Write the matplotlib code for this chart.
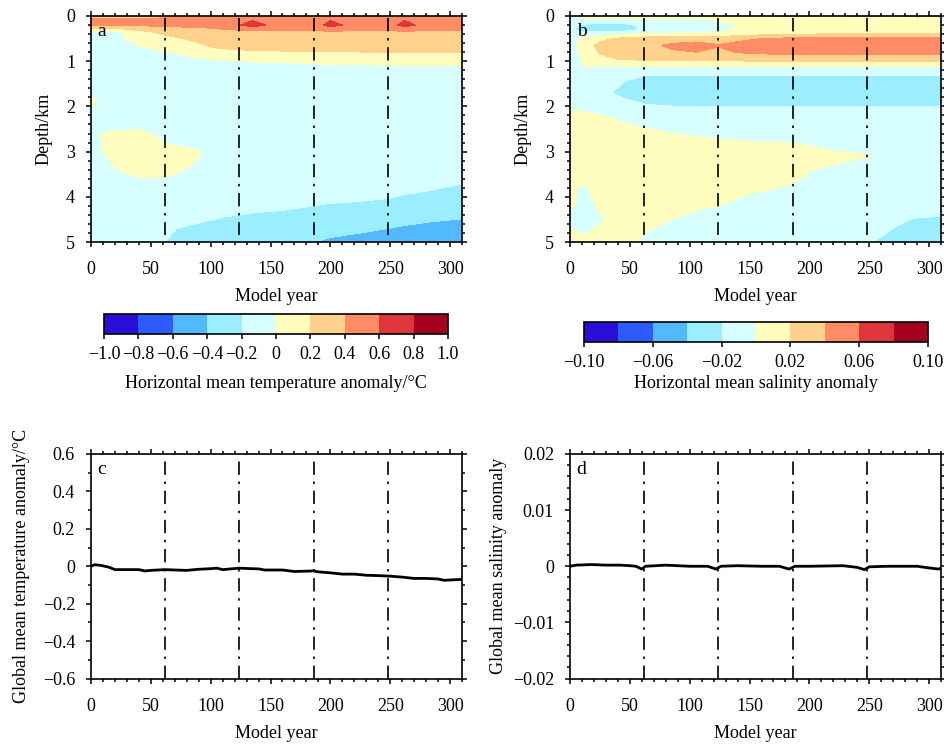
import numpy as np
import matplotlib
matplotlib.use('Agg')
import matplotlib.pyplot as plt
from matplotlib.colors import ListedColormap, BoundaryNorm
from matplotlib.ticker import MultipleLocator, FuncFormatter
import matplotlib.cm as cm

plt.rcParams['font.family'] = ['Liberation Serif', 'DejaVu Serif']
plt.rcParams['font.size'] = 13
plt.rcParams['axes.unicode_minus'] = True

# colour scale (10 classes, blue -> red)
colors = ['#2B0FD6', '#2C5BFF', '#52B9FF', '#9AEEFF', '#D7FFFF',
          '#FFFDBE', '#FFD18A', '#FF8C64', '#E1353C', '#A50021']
temp_levels = np.linspace(-1.0, 1.0, 11)
sal_levels = np.linspace(-0.1, 0.1, 11)
marks = [62, 124, 186, 248]  # dash-dot lines

# ---- panel a: horizontal mean temperature anomaly (depth x year) ----
temp_years = [0, 20, 40, 62, 90, 110, 135, 160, 186, 200, 225, 248, 262, 285, 310]
temp_depths = [0, 0.1, 0.2, 0.35, 0.5, 0.7, 0.85, 1.05, 1.3, 1.9, 2.3, 2.6,
               3.0, 3.4, 3.8, 4.1, 4.4, 4.7, 5.0]
temp_anom = [
    [0.3, 0.3, 0.3, 0.31, 0.31, 0.31, 0.32, 0.31, 0.31, 0.32, 0.31, 0.31, 0.32, 0.31, 0.32],
    [0.45, 0.48, 0.5, 0.52, 0.52, 0.52, 0.6, 0.52, 0.52, 0.6, 0.52, 0.52, 0.6, 0.52, 0.6],
    [0.42, 0.42, 0.42, 0.45, 0.45, 0.48, 0.68, 0.5, 0.48, 0.68, 0.48, 0.48, 0.68, 0.47, 0.46],
    [-0.05, -0.05, 0.15, 0.25, 0.3, 0.35, 0.36, 0.37, 0.38, 0.38, 0.38, 0.38, 0.38, 0.38, 0.38],
    [-0.08, -0.06, 0.08, 0.15, 0.24, 0.3, 0.33, 0.34, 0.35, 0.35, 0.35, 0.36, 0.36, 0.36, 0.36],
    [-0.1, -0.1, -0.02, 0.08, 0.16, 0.22, 0.26, 0.27, 0.28, 0.28, 0.29, 0.3, 0.3, 0.3, 0.3],
    [-0.1, -0.1, -0.08, -0.05, 0.04, 0.08, 0.12, 0.13, 0.14, 0.15, 0.15, 0.15, 0.15, 0.15, 0.15],
    [-0.1, -0.1, -0.1, -0.1, -0.06, -0.04, -0.02, -0.01, 0.0, 0.01, 0.01, 0.02, 0.02, 0.02, 0.03],
    [-0.1, -0.1, -0.1, -0.1, -0.1, -0.1, -0.1, -0.1, -0.1, -0.1, -0.1, -0.1, -0.1, -0.1, -0.1],
    [0.03, -0.1, -0.1, -0.1, -0.1, -0.1, -0.1, -0.1, -0.1, -0.1, -0.1, -0.1, -0.1, -0.1, -0.1],
    [-0.08, -0.1, -0.1, -0.1, -0.1, -0.1, -0.1, -0.1, -0.1, -0.1, -0.1, -0.1, -0.1, -0.1, -0.1],
    [-0.02, 0.03, 0.04, -0.05, -0.1, -0.1, -0.1, -0.1, -0.1, -0.1, -0.1, -0.1, -0.1, -0.1, -0.1],
    [-0.06, 0.06, 0.08, 0.04, 0.01, -0.1, -0.1, -0.1, -0.1, -0.1, -0.1, -0.1, -0.1, -0.1, -0.1],
    [-0.1, -0.01, 0.05, 0.03, -0.02, -0.1, -0.1, -0.1, -0.1, -0.1, -0.1, -0.1, -0.1, -0.1, -0.12],
    [-0.1, -0.1, -0.06, -0.04, -0.1, -0.1, -0.1, -0.11, -0.12, -0.13, -0.14, -0.16, -0.17, -0.19, -0.22],
    [-0.1, -0.1, -0.1, -0.11, -0.12, -0.13, -0.14, -0.16, -0.18, -0.19, -0.2, -0.21, -0.23, -0.25, -0.27],
    [-0.11, -0.12, -0.13, -0.15, -0.17, -0.19, -0.21, -0.22, -0.24, -0.26, -0.28, -0.31, -0.33, -0.36, -0.38],
    [-0.12, -0.14, -0.16, -0.19, -0.22, -0.25, -0.28, -0.31, -0.34, -0.36, -0.38, -0.4, -0.42, -0.44, -0.45],
    [-0.13, -0.15, -0.17, -0.2, -0.25, -0.28, -0.32, -0.36, -0.4, -0.42, -0.44, -0.46, -0.47, -0.48, -0.48],
]

# ---- panel b: horizontal mean salinity anomaly (depth x year) ----
sal_years = [0, 10, 25, 45, 62, 85, 105, 124, 150, 186, 220, 248, 270, 290, 310]
sal_depths = [0, 0.08, 0.2, 0.3, 0.4, 0.5, 0.65, 0.8, 0.95, 1.1, 1.25, 1.45, 1.7,
              1.95, 2.2, 2.5, 2.8, 3.1, 3.4, 3.8, 4.2, 4.5, 4.8, 5.0]
sal_anom = [
    [-0.01, 0.01, 0.01, 0.012, 0.012, 0.012, 0.015, 0.015, 0.018, 0.022, 0.018, 0.023, 0.018, 0.024, 0.022],
    [-0.01, -0.008, -0.008, -0.008, -0.008, -0.006, -0.005, 0.003, 0.01, 0.01, 0.01, 0.01, 0.01, 0.01, 0.01],
    [-0.015, -0.022, -0.024, -0.024, -0.016, -0.01, -0.01, -0.005, 0.005, 0.005, 0.01, 0.01, 0.01, 0.01, 0.01],
    [-0.015, -0.03, -0.03, -0.03, -0.017, -0.01, -0.008, -0.005, 0.005, 0.008, 0.01, 0.01, 0.01, 0.01, 0.01],
    [-0.01, -0.012, -0.006, -0.002, 0.002, 0.003, 0.004, 0.006, 0.014, 0.019, 0.021, 0.021, 0.021, 0.021, 0.021],
    [-0.01, 0.005, 0.015, 0.025, 0.03, 0.032, 0.034, 0.032, 0.038, 0.045, 0.046, 0.045, 0.046, 0.046, 0.046],
    [-0.01, 0.01, 0.025, 0.032, 0.035, 0.043, 0.046, 0.041, 0.048, 0.052, 0.052, 0.052, 0.052, 0.053, 0.053],
    [-0.01, 0.005, 0.022, 0.03, 0.032, 0.038, 0.04, 0.037, 0.043, 0.046, 0.047, 0.046, 0.047, 0.047, 0.047],
    [-0.01, 0.0, 0.015, 0.022, 0.024, 0.025, 0.026, 0.025, 0.028, 0.03, 0.03, 0.03, 0.03, 0.03, 0.03],
    [-0.01, 0.001, 0.002, 0.002, 0.002, 0.002, 0.002, 0.002, 0.003, 0.003, 0.003, 0.003, 0.003, 0.003, 0.003],
    [-0.01, -0.01, -0.012, -0.015, -0.015, -0.015, -0.015, -0.015, -0.015, -0.015, -0.015, -0.015, -0.015, -0.015, -0.015],
    [-0.008, -0.01, -0.015, -0.02, -0.028, -0.03, -0.03, -0.03, -0.03, -0.03, -0.03, -0.03, -0.03, -0.03, -0.03],
    [-0.008, -0.01, -0.016, -0.024, -0.03, -0.032, -0.032, -0.032, -0.032, -0.032, -0.032, -0.032, -0.032, -0.032, -0.032],
    [-0.005, -0.008, -0.012, -0.016, -0.02, -0.022, -0.022, -0.022, -0.022, -0.022, -0.022, -0.022, -0.022, -0.022, -0.022],
    [0.005, 0.005, 0.001, -0.005, -0.008, -0.01, -0.01, -0.01, -0.01, -0.01, -0.01, -0.01, -0.01, -0.01, -0.01],
    [0.01, 0.01, 0.008, 0.004, 0.001, -0.003, -0.005, -0.006, -0.007, -0.008, -0.008, -0.008, -0.008, -0.008, -0.008],
    [0.01, 0.012, 0.012, 0.01, 0.008, 0.006, 0.004, 0.002, 0.001, 0.0, -0.004, -0.005, -0.006, -0.007, -0.008],
    [0.01, 0.012, 0.012, 0.012, 0.01, 0.009, 0.008, 0.007, 0.006, 0.005, 0.003, 0.0005, -0.003, -0.005, -0.006],
    [0.008, 0.01, 0.012, 0.012, 0.01, 0.009, 0.008, 0.006, 0.004, 0.002, -0.002, -0.005, -0.006, -0.006, -0.006],
    [0.003, -0.002, 0.005, 0.01, 0.009, 0.007, 0.005, 0.003, 0.001, -0.0005, -0.005, -0.006, -0.007, -0.007, -0.007],
    [0.002, -0.003, 0.001, 0.006, 0.005, 0.003, 0.001, 0.0, -0.002, -0.004, -0.006, -0.008, -0.01, -0.012, -0.013],
    [-0.002, -0.004, -0.001, 0.003, 0.002, 0.0, -0.002, -0.003, -0.004, -0.006, -0.01, -0.014, -0.018, -0.021, -0.022],
    [0.002, -0.001, 0.002, 0.003, 0.0, -0.002, -0.003, -0.004, -0.006, -0.008, -0.012, -0.017, -0.021, -0.024, -0.025],
    [0.003, 0.003, 0.004, 0.003, -0.001, -0.003, -0.004, -0.005, -0.007, -0.009, -0.013, -0.019, -0.023, -0.025, -0.026],
]

# ---- panel c: global mean temperature anomaly ----
gt_years = [0, 3, 8, 15, 20, 30, 40, 45, 50, 62, 70, 80, 90, 100, 105, 110, 124,
            130, 140, 145, 160, 170, 186, 190, 200, 210, 220, 230, 240, 250, 260,
            270, 280, 290, 295, 310]
gt_anom = [0.0, 0.008, 0.005, -0.005, -0.018, -0.018, -0.018, -0.025, -0.022,
           -0.018, -0.02, -0.022, -0.016, -0.013, -0.01, -0.018, -0.01, -0.012,
           -0.014, -0.02, -0.02, -0.028, -0.025, -0.03, -0.035, -0.042, -0.042,
           -0.048, -0.05, -0.053, -0.058, -0.065, -0.065, -0.068, -0.075, -0.07]

# ---- panel d: global mean salinity anomaly ----
gs_years = [0, 5, 18, 30, 42, 50, 55, 60, 63, 80, 100, 115, 122, 126, 140, 160,
            175, 183, 188, 200, 228, 240, 246, 250, 265, 290, 300, 308, 310]
gs_anom = [0.0, 0.0002, 0.0003, 0.0002, 0.0002, 0.0001, 0.0, -0.0005, 0.0,
           0.0002, 0.0, 0.0, -0.0005, 0.0, 0.0001, 0.0, 0.0, -0.0005, 0.0, 0.0,
           0.0001, -0.0002, -0.0006, -0.0001, 0.0, 0.0, -0.0003, -0.0005, -0.0003]

cmap = ListedColormap(colors)


def num_fmt(dec):
    def f(v, pos):
        if abs(v) < 1e-12:
            return '0'
        return f'{v:.{dec}f}'.replace('-', '\u2212')
    return FuncFormatter(f)


def style(ax):
    for s in ax.spines.values():
        s.set_linewidth(1.2)
    ax.set_xlim(0, 310)
    ax.xaxis.set_major_locator(MultipleLocator(50))
    ax.xaxis.set_minor_locator(MultipleLocator(10))
    ax.tick_params(which='both', direction='out', top=True, right=True,
                   width=1.1, labelsize=13)
    ax.tick_params(which='major', length=3.5)
    ax.tick_params(which='minor', length=2)
    ax.tick_params(axis='x', which='major', pad=10.5)
    ax.tick_params(axis='y', which='major', pad=8)
    ax.set_xlabel('Model year', fontsize=13, labelpad=7)


def marks_on(ax, y0, y1):
    for m in marks:
        ax.plot([m, m], [y0, y1], color='black', lw=1.2,
                linestyle=(0, (8, 4, 1.5, 4)))


fig = plt.figure(figsize=(9.45, 7.44), dpi=100)

# contour panels
for left, yrs, dps, field, lev, letter in [
        (0.0963, temp_years, temp_depths, temp_anom, temp_levels, 'a'),
        (0.6032, sal_years, sal_depths, sal_anom, sal_levels, 'b')]:
    ax = fig.add_axes([left, 0.6747, 0.3926, 0.3038])
    ax.contourf(yrs, dps, np.array(field), levels=lev, colors=colors)
    ax.set_ylim(5, 0)
    ax.yaxis.set_major_locator(MultipleLocator(1))
    ax.yaxis.set_minor_locator(MultipleLocator(0.2))
    style(ax)
    ax.set_ylabel('Depth/km', fontsize=13, labelpad=10)
    marks_on(ax, 0.05, 4.85)
    ax.text(0.018, 0.93, letter, transform=ax.transAxes, fontsize=14, va='center')

# colour bars
cax1 = fig.add_axes([0.110, 0.551, 0.364, 0.0269])
cb1 = fig.colorbar(cm.ScalarMappable(norm=BoundaryNorm(temp_levels, 10), cmap=cmap),
                   cax=cax1, orientation='horizontal', ticks=temp_levels)
cb1.ax.xaxis.set_major_formatter(num_fmt(1))
cb1.set_label('Horizontal mean temperature anomaly/\u00b0C', fontsize=13, labelpad=9)

cax2 = fig.add_axes([0.618, 0.5403, 0.364, 0.0269])
cb2 = fig.colorbar(cm.ScalarMappable(norm=BoundaryNorm(sal_levels, 10), cmap=cmap),
                   cax=cax2, orientation='horizontal',
                   ticks=[-0.10, -0.06, -0.02, 0.02, 0.06, 0.10])
cb2.ax.xaxis.set_major_formatter(num_fmt(2))
cb2.set_label('Horizontal mean salinity anomaly', fontsize=13, labelpad=3)

for cb in (cb1, cb2):
    cb.outline.set_linewidth(1.2)
    cb.ax.tick_params(direction='out', length=3.5, width=1.1, pad=5, labelsize=13)
    cb.ax.minorticks_off()

# line panels
axc = fig.add_axes([0.0963, 0.088, 0.3926, 0.3018])
axc.plot(gt_years, gt_anom, color='black', lw=2)
axc.set_ylim(-0.6, 0.6)
axc.yaxis.set_major_locator(MultipleLocator(0.2))
axc.yaxis.set_minor_locator(MultipleLocator(0.1))
axc.yaxis.set_major_formatter(num_fmt(1))
style(axc)
axc.set_ylabel('Global mean temperature anomaly/\u00b0C', fontsize=13, labelpad=9)
marks_on(axc, -0.6, 0.57)
axc.text(0.018, 0.93, 'c', transform=axc.transAxes, fontsize=14, va='center')

axd = fig.add_axes([0.6032, 0.088, 0.3926, 0.3018])
axd.plot(gs_years, gs_anom, color='black', lw=2)
axd.set_ylim(-0.02, 0.02)
axd.yaxis.set_major_locator(MultipleLocator(0.01))
axd.yaxis.set_minor_locator(MultipleLocator(0.002))
axd.yaxis.set_major_formatter(num_fmt(2))
style(axd)
axd.set_ylabel('Global mean salinity anomaly', fontsize=13, labelpad=4)
marks_on(axd, -0.02, 0.019)
axd.text(0.018, 0.93, 'd', transform=axd.transAxes, fontsize=14, va='center')

fig.savefig('out.png', dpi=100)
